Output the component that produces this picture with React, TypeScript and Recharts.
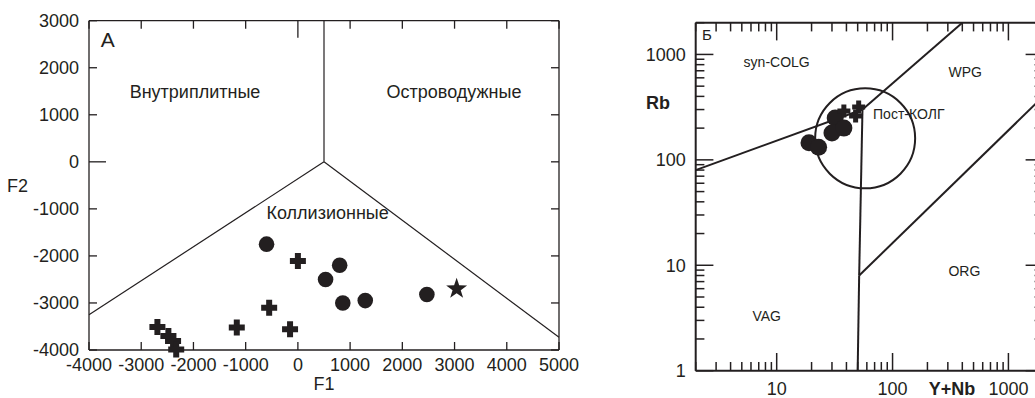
import React from 'react';
import { ScatterChart, Scatter, XAxis, YAxis, ReferenceLine, ReferenceDot, Label } from 'recharts';

const FONT = '"Liberation Sans", Arial, Helvetica, sans-serif';
const INK = '#231f20';

// ---------- Diagram A (F1 – F2) ----------
const aXTicks = [-4000, -3000, -2000, -1000, 0, 1000, 2000, 3000, 4000, 5000];
const aYTicks = [-4000, -3000, -2000, -1000, 0, 1000, 2000, 3000];
const aCircleF1 = [-600, 800, 530, 860, 1290, 2470];
const aCircleF2 = [-1750, -2200, -2500, -3000, -2950, -2820];
const aCrossF1 = [0, -550, -1170, -150, -2690, -2480, -2390, -2330];
const aCrossF2 = [-2110, -3100, -3520, -3560, -3510, -3700, -3810, -3990];
const aStarF1 = [3040];
const aStarF2 = [-2700];
const aFieldLines: number[][][] = [
  [[-4000, -3250], [500, 0]],
  [[500, 0], [5000, -3730]],
  [[500, 0], [500, 3000]],
];
const aFieldNames = ['Внутриплитные', 'Островодужные', 'Коллизионные'];
const aFieldF1 = [-1970, 2990, 570];
const aFieldF2 = [1500, 1500, -1090];
const aPanel = { name: 'А', f1: -3640, f2: 2610 };

// ---------- Diagram Б (Rb vs Y+Nb) ----------
const bXTicks = [2, 3, 4, 5, 6, 7, 8, 9, 10, 20, 30, 40, 50, 60, 70, 80, 90, 100, 200, 300, 400, 500, 600, 700, 800, 900, 1000, 2000];
const bYTicks = [1, 2, 3, 4, 5, 6, 7, 8, 9, 10, 20, 30, 40, 50, 60, 70, 80, 90, 100, 200, 300, 400, 500, 600, 700, 800, 900, 1000, 2000];
const bMajor = [1, 10, 100, 1000];
const bCircleYNb = [19, 23, 32, 30, 38];
const bCircleRb = [145, 132, 250, 180, 200];
const bCrossYNb = [38, 51, 48];
const bCrossRb = [290, 318, 260];
const bFieldLines: number[][][] = [
  [[2, 80], [55, 300]],
  [[55, 300], [400, 2000]],
  [[55, 300], [51.5, 8]],
  [[51.5, 8], [50, 1]],
  [[51.5, 8], [2000, 400]],
];
const bPostColYNb = 58;
const bPostColRb = 160;
const bFieldNames = ['syn-COLG', 'WPG', 'Пост-КОЛГ', 'VAG', 'ORG'];
const bFieldYNb = [10, 424, 138, 8.2, 417];
const bFieldRb = [840, 675, 271, 3.32, 8.87];
const bPanel = { name: 'Б', ynb: 2.5, rb: 1530 };

const zip = (xs: number[], ys: number[]) => xs.map((x, i) => ({ x, y: ys[i] }));

const aCircles = zip(aCircleF1, aCircleF2);
const aCrosses = zip(aCrossF1, aCrossF2);
const aStars = zip(aStarF1, aStarF2);
const bCircles = zip(bCircleYNb, bCircleRb);
const bCrosses = zip(bCrossYNb, bCrossRb);

// ---------- layout ----------
const A_XD = [-4000, 5000];
const A_YD = [-4000, 3000];
const B_XD = [2, 2000];
const B_YD = [1, 2000];

// ---------- inward tick marks: points on the frame, drawn through the chart's scales ----------
type TickPt = { x: number; y: number; dx: number; dy: number };
const aLong = (v: number) => (v === 0 ? 17 : 8);
const aTickPts: TickPt[] = [
  ...aXTicks.map((v) => ({ x: v, y: A_YD[0], dx: 0, dy: -8 })),
  ...aXTicks.map((v) => ({ x: v, y: A_YD[1], dx: 0, dy: aLong(v) })),
  ...aYTicks.map((v) => ({ x: A_XD[0], y: v, dx: aLong(v), dy: 0 })),
  ...aYTicks.map((v) => ({ x: A_XD[1], y: v, dx: -8, dy: 0 })),
];
const bLen = (v: number) => (bMajor.includes(v) ? 17.7 : 8.7);
const bTickPts: TickPt[] = [
  ...bXTicks.map((v) => ({ x: v, y: B_YD[0], dx: 0, dy: -bLen(v) })),
  ...bXTicks.map((v) => ({ x: v, y: B_YD[1], dx: 0, dy: bLen(v) })),
  ...bYTicks.map((v) => ({ x: B_XD[0], y: v, dx: bLen(v), dy: 0 })),
  ...bYTicks.map((v) => ({ x: B_XD[1], y: v, dx: -bLen(v), dy: 0 })),
];

// ---------- shapes ----------
const circleShape = (r: number) => (p: any) => <circle cx={p.cx} cy={p.cy} r={r} fill={INK} />;
const crossShape = (s: number, a: number) => (p: any) => {
  const h = s / 2, ha = a / 2, k = h - ha;
  const { cx, cy } = p;
  const d = `M${cx - ha},${cy - h} h${a} v${k} h${k} v${a} h${-k} v${k} h${-a} v${-k} h${-k} v${-a} h${k} Z`;
  return <path d={d} fill={INK} />;
};
const starShape = (R: number, r: number) => (p: any) => {
  const pts: string[] = [];
  for (let i = 0; i < 10; i++) {
    const ang = -Math.PI / 2 + (i * Math.PI) / 5;
    const rad = i % 2 === 0 ? R : r;
    pts.push(`${p.cx + rad * Math.cos(ang)},${p.cy + rad * Math.sin(ang)}`);
  }
  return <polygon points={pts.join(' ')} fill={INK} />;
};
const tickShape = (sw: number) => (p: any) => {
  const d = p.payload || {};
  const dx = Number(d.dx) || 0;
  const dy = Number(d.dy) || 0;
  return <path d={`M${p.cx},${p.cy}l${dx},${dy}`} stroke={INK} strokeWidth={sw} fill="none" />;
};

// ---------- tick labels ----------
const labelTick = (side: 'bottom' | 'left', label: (v: number) => string | null, fontSize: number) => (props: any) => {
  const { x, y, payload } = props;
  const txt = label(Number(payload.value));
  if (!txt) return <g />;
  const tp = { fontSize, fontFamily: FONT, fill: INK };
  return side === 'bottom' ? (
    <text x={x} y={y} dy="0.71em" textAnchor="middle" {...tp}>{txt}</text>
  ) : (
    <text x={x} y={y} dy="0.355em" textAnchor="end" {...tp}>{txt}</text>
  );
};

const textProps = { fontFamily: FONT, fill: INK };

function DiagramA() {
  const axisLine = { stroke: INK, strokeWidth: 1.3 };
  return (
    <ScatterChart width={600} height={398} margin={{ top: 19.7, right: 40, bottom: 0, left: 0 }}>
      <XAxis
        xAxisId="b" type="number" dataKey="x" domain={A_XD} ticks={aXTicks} interval={0}
        orientation="bottom" height={48} tickSize={0} tickMargin={8}
        axisLine={axisLine} tickLine={false} tick={labelTick('bottom', (v) => String(v), 18)}
      >
        <Label value="F1" position="insideBottom" offset={8} fontSize={18} {...textProps} />
      </XAxis>
      <XAxis
        xAxisId="t" type="number" dataKey="x" domain={A_XD} ticks={aXTicks} interval={0}
        orientation="top" height={1} axisLine={axisLine} tickLine={false} tick={false}
      />
      <YAxis
        yAxisId="l" type="number" dataKey="y" domain={A_YD} ticks={aYTicks} interval={0}
        orientation="left" width={89} tickSize={0} tickMargin={10}
        axisLine={axisLine} tickLine={false} tick={labelTick('left', (v) => String(v), 18)}
      >
        <Label value="F2" position="insideLeft" offset={7} fontSize={18} {...textProps} />
      </YAxis>
      <YAxis
        yAxisId="r" type="number" dataKey="y" domain={A_YD} ticks={aYTicks} interval={0}
        orientation="right" width={1} axisLine={axisLine} tickLine={false} tick={false}
      />
      {aFieldLines.map((seg, i) => (
        <ReferenceLine
          key={'al' + i} xAxisId="b" yAxisId="l" ifOverflow="visible"
          segment={[{ x: seg[0][0], y: seg[0][1] }, { x: seg[1][0], y: seg[1][1] }]}
          stroke={INK} strokeWidth={1.2}
        />
      ))}
      {aFieldNames.map((n, i) => (
        <ReferenceDot key={'an' + i} xAxisId="b" yAxisId="l" x={aFieldF1[i]} y={aFieldF2[i]} r={0} fill="none" stroke="none">
          <Label value={n} position="center" fontSize={18} {...textProps} />
        </ReferenceDot>
      ))}
      <ReferenceDot xAxisId="b" yAxisId="l" x={aPanel.f1} y={aPanel.f2} r={0} fill="none" stroke="none">
        <Label value={aPanel.name} position="center" fontSize={21} {...textProps} />
      </ReferenceDot>
      <Scatter xAxisId="t" yAxisId="r" data={aCircles} shape={() => <g />} isAnimationActive={false} />
      <Scatter xAxisId="b" yAxisId="l" data={aTickPts} shape={tickShape(1.3)} isAnimationActive={false} />
      <Scatter xAxisId="b" yAxisId="l" data={aCircles} shape={circleShape(7.8)} isAnimationActive={false} />
      <Scatter xAxisId="b" yAxisId="l" data={aCrosses} shape={crossShape(16, 6)} isAnimationActive={false} />
      <Scatter xAxisId="b" yAxisId="l" data={aStars} shape={starShape(11, 4.3)} isAnimationActive={false} />
    </ScatterChart>
  );
}

function DiagramB() {
  const axisLine = { stroke: INK, strokeWidth: 2 };
  const lab = (v: number) => (bMajor.includes(v) ? String(v) : null);
  return (
    <ScatterChart width={460} height={398} margin={{ top: 21.7, right: 15.7, bottom: 0, left: 0 }}>
      <XAxis
        xAxisId="b" type="number" dataKey="x" scale="log" domain={B_XD} ticks={bXTicks} interval={0}
        orientation="bottom" height={27.3} tickSize={0} tickMargin={12}
        axisLine={axisLine} tickLine={false} tick={labelTick('bottom', lab, 18)}
      >
        <Label
          content={(p: any) => (
            <text x={p.viewBox.x + 256.3} y={p.viewBox.y + 24} textAnchor="middle" fontSize={18} fontWeight="bold" {...textProps}>
              Y+Nb
            </text>
          )}
        />
      </XAxis>
      <XAxis
        xAxisId="t" type="number" dataKey="x" scale="log" domain={B_XD} ticks={bXTicks} interval={0}
        orientation="top" height={1} axisLine={axisLine} tickLine={false} tick={false}
      />
      <YAxis
        yAxisId="l" type="number" dataKey="y" scale="log" domain={B_YD} ticks={bYTicks} interval={0}
        orientation="left" width={95.7} tickSize={0} tickMargin={10}
        axisLine={axisLine} tickLine={false} tick={labelTick('left', lab, 18)}
      >
        <Label
          content={(p: any) => (
            <text x={p.viewBox.x + 46} y={p.viewBox.y + 86.7} fontSize={18} fontWeight="bold" {...textProps}>
              Rb
            </text>
          )}
        />
      </YAxis>
      <YAxis
        yAxisId="r" type="number" dataKey="y" scale="log" domain={B_YD} ticks={bYTicks} interval={0}
        orientation="right" width={1} axisLine={axisLine} tickLine={false} tick={false}
      />
      {bFieldLines.map((seg, i) => (
        <ReferenceLine
          key={'bl' + i} xAxisId="b" yAxisId="l" ifOverflow="visible"
          segment={[{ x: seg[0][0], y: seg[0][1] }, { x: seg[1][0], y: seg[1][1] }]}
          stroke={INK} strokeWidth={2}
        />
      ))}
      <ReferenceDot xAxisId="b" yAxisId="l" x={bPostColYNb} y={bPostColRb} r={50} fill="none" stroke={INK} strokeWidth={2} ifOverflow="visible" />
      {bFieldNames.map((n, i) => (
        <ReferenceDot key={'bn' + i} xAxisId="b" yAxisId="l" x={bFieldYNb[i]} y={bFieldRb[i]} r={0} fill="none" stroke="none">
          <Label value={n} position="center" fontSize={14} {...textProps} />
        </ReferenceDot>
      ))}
      <ReferenceDot xAxisId="b" yAxisId="l" x={bPanel.ynb} y={bPanel.rb} r={0} fill="none" stroke="none">
        <Label value={bPanel.name} position="center" fontSize={15} {...textProps} />
      </ReferenceDot>
      <Scatter xAxisId="t" yAxisId="r" data={bCircles} shape={() => <g />} isAnimationActive={false} />
      <Scatter xAxisId="b" yAxisId="l" data={bTickPts} shape={tickShape(1.5)} isAnimationActive={false} />
      <Scatter xAxisId="b" yAxisId="l" data={bCircles} shape={circleShape(8.5)} isAnimationActive={false} />
      <Scatter xAxisId="b" yAxisId="l" data={bCrosses} shape={crossShape(13, 5)} isAnimationActive={false} />
    </ScatterChart>
  );
}

export default function App() {
  return (
    <div style={{ position: 'absolute', left: 0, top: 0, width: 1035, height: 398, overflow: 'hidden', background: '#fff' }}>
      <div style={{ position: 'absolute', left: 0, top: 0 }}>
        <DiagramA />
      </div>
      <div style={{ position: 'absolute', left: 600, top: 0 }}>
        <DiagramB />
      </div>
    </div>
  );
}
